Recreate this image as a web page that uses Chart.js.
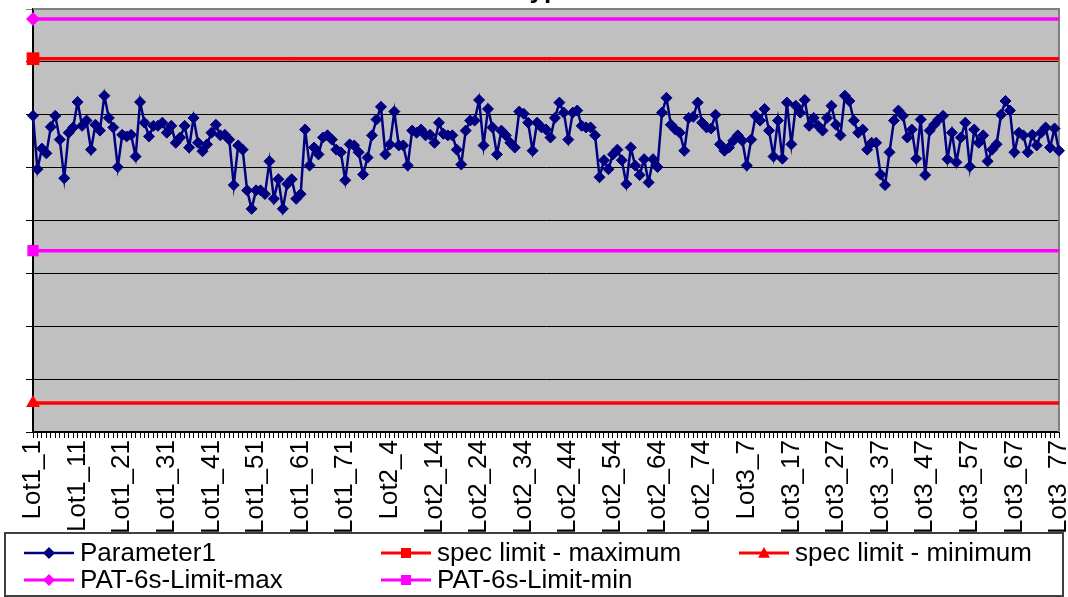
<!DOCTYPE html>
<html>
<head>
<meta charset="utf-8">
<script src="https://cdn.jsdelivr.net/npm/chart.js@4/dist/chart.umd.min.js"></script>
<style>
  html, body { margin: 0; padding: 0; background: #fff; }
  #chart { display: block; }
</style>
</head>
<body>
<canvas id="chart" width="1068" height="597"></canvas>
<script>
// ---- data ----
const lotNames = ["Lot1", "Lot2", "Lot3"];

const lot1Values = [
  5.98, 4.97, 5.36, 5.27, 5.77, 5.98, 5.53, 4.80, 5.66, 5.76,
  6.24, 5.79, 5.89, 5.34, 5.81, 5.70, 6.36, 5.94, 5.76, 5.01,
  5.62, 5.59, 5.62, 5.21, 6.24, 5.85, 5.59, 5.79, 5.79, 5.85,
  5.66, 5.79, 5.47, 5.57, 5.79, 5.38, 5.94, 5.47, 5.31, 5.44,
  5.66, 5.81, 5.61, 5.62, 5.53, 4.67, 5.42, 5.34, 4.57, 4.22,
  4.57, 4.57, 4.50, 5.12, 4.41, 4.78, 4.22, 4.69, 4.78, 4.41,
  4.50, 5.72, 5.04, 5.38, 5.25, 5.57, 5.61, 5.53, 5.34, 5.29,
  4.76, 5.44, 5.42, 5.29, 4.87, 5.19, 5.61
];
const lot2Values = [
  5.91, 6.15, 5.25, 5.44, 6.06, 5.42, 5.42, 5.04, 5.70, 5.66,
  5.72, 5.61, 5.62, 5.47, 5.85, 5.64, 5.61, 5.61, 5.34, 5.06,
  5.70, 5.89, 5.89, 6.28, 5.42, 6.11, 5.76, 5.25, 5.70, 5.61,
  5.47, 5.38, 6.06, 6.02, 5.85, 5.32, 5.85, 5.76, 5.72, 5.57,
  5.94, 6.23, 6.04, 5.53, 6.04, 6.08, 5.79, 5.76, 5.76, 5.61,
  4.82, 5.14, 4.97, 5.25, 5.34, 5.14, 4.69, 5.38, 5.04, 4.86,
  5.16, 4.72, 5.16, 5.01, 6.04, 6.32, 5.81, 5.72, 5.66, 5.32,
  5.94, 5.96, 6.23, 5.85, 5.76, 5.74, 6.00
];
const lot3Values = [
  5.44, 5.32, 5.38, 5.51, 5.61, 5.51, 5.04, 5.53, 5.98, 5.89,
  6.11, 5.70, 5.21, 5.89, 5.17, 6.23, 5.44, 6.17, 6.04, 6.28,
  5.79, 5.94, 5.79, 5.70, 5.94, 6.17, 5.81, 5.61, 6.36, 6.26,
  5.89, 5.66, 5.72, 5.34, 5.47, 5.47, 4.87, 4.67, 5.29, 5.89,
  6.08, 5.98, 5.57, 5.72, 5.17, 5.91, 4.86, 5.70, 5.81, 5.91,
  5.98, 5.16, 5.66, 5.10, 5.57, 5.85, 5.02, 5.72, 5.47, 5.61,
  5.12, 5.34, 5.44, 6.00, 6.26, 6.08, 5.29, 5.66, 5.61, 5.29,
  5.62, 5.42, 5.66, 5.76, 5.38, 5.74, 5.32
];

// limit levels (constant over all parts)
const specLimitMax = 7.06;
const specLimitMin = 0.55;
const patLimitMax = 7.81;
const patLimitMin = 3.43;

// y axis has no visible labels, 8 grid bands
const yMin = 0;
const yMax = 8;

const chartTitle = "Type";

// ---- build categories ----
const lotValues = [lot1Values, lot2Values, lot3Values];
const labels = [];
lotNames.forEach((name, k) => {
  lotValues[k].forEach((v, i) => labels.push(name + "_" + (i + 1)));
});
const parameter1 = [].concat(lot1Values, lot2Values, lot3Values);
const flat = (level) => labels.map(() => level);

const FONT = "'Liberation Sans', Arial, sans-serif";
const NAVY = "#000080";
const RED = "#FF0000";
const MAGENTA = "#FF00FF";

// marker only on the first point of a limit line
const firstOnly = (r) => (c) => (c.dataIndex === 0 ? r : 0);

// ---- small helper for Excel-like legend markers ----
function drawMarker(ctx, style, x, y, r, color) {
  ctx.save();
  ctx.fillStyle = color;
  ctx.beginPath();
  if (style === "diamond") {
    ctx.moveTo(x, y - r); ctx.lineTo(x + r, y); ctx.lineTo(x, y + r); ctx.lineTo(x - r, y);
  } else if (style === "square") {
    ctx.rect(x - r, y - r, 2 * r, 2 * r);
  } else if (style === "triangle") {
    ctx.moveTo(x, y - r); ctx.lineTo(x + r, y + r * 0.8); ctx.lineTo(x - r, y + r * 0.8);
  }
  ctx.closePath();
  ctx.fill();
  ctx.restore();
}

const legendItems = [
  { text: "Parameter1", color: NAVY, marker: "diamond", r: 6, lw: 2.5, col: 0, row: 0 },
  { text: "spec limit - maximum", color: RED, marker: "square", r: 5, lw: 3, col: 1, row: 0 },
  { text: "spec limit - minimum", color: RED, marker: "triangle", r: 6, lw: 3, col: 2, row: 0 },
  { text: "PAT-6s-Limit-max", color: MAGENTA, marker: "diamond", r: 6, lw: 3, col: 0, row: 1 },
  { text: "PAT-6s-Limit-min", color: MAGENTA, marker: "square", r: 5, lw: 3, col: 1, row: 1 }
];

// plot background, borders, title and boxed legend
const excelLook = {
  id: "excelLook",
  beforeDraw(chart) {
    const { ctx, chartArea: a } = chart;
    ctx.save();
    ctx.fillStyle = "#C0C0C0";
    ctx.fillRect(a.left, a.top, a.right - a.left, a.bottom - a.top);
    ctx.restore();
  },
  beforeDatasetsDraw(chart) {
    const { ctx, chartArea: a } = chart;
    ctx.save();
    ctx.strokeStyle = "#808080";
    ctx.lineWidth = 2;
    ctx.beginPath();
    ctx.moveTo(a.left, a.top);
    ctx.lineTo(a.right, a.top);
    ctx.lineTo(a.right, a.bottom);
    ctx.stroke();
    ctx.restore();
  },
  afterDraw(chart) {
    const ctx = chart.ctx;
    ctx.save();
    // title, mostly above the picture edge
    ctx.fillStyle = "#000";
    ctx.font = "bold 26px " + FONT;
    ctx.textAlign = "center";
    ctx.textBaseline = "alphabetic";
    ctx.fillText(chartTitle, 545, -2);

    // legend box
    ctx.fillStyle = "#fff";
    ctx.fillRect(5, 533, 1058, 63);
    ctx.strokeStyle = "#404040";
    ctx.lineWidth = 2;
    ctx.strokeRect(5, 533, 1058, 63);

    const colX = [24, 381, 739];
    const rowY = [553, 580];
    ctx.font = "26px " + FONT;
    ctx.textAlign = "left";
    ctx.textBaseline = "middle";
    legendItems.forEach((it) => {
      const x = colX[it.col];
      const y = rowY[it.row];
      ctx.strokeStyle = it.color;
      ctx.lineWidth = it.lw;
      ctx.beginPath();
      ctx.moveTo(x, y);
      ctx.lineTo(x + 50, y);
      ctx.stroke();
      drawMarker(ctx, it.marker, x + 25, y, it.r, it.color);
      ctx.fillStyle = "#000";
      ctx.fillText(it.text, x + 56, y + 1);
    });
    ctx.restore();
  }
};

new Chart(document.getElementById("chart"), {
  type: "line",
  data: {
    labels: labels,
    datasets: [
      {
        label: "Parameter1",
        data: parameter1,
        borderColor: NAVY,
        backgroundColor: NAVY,
        borderWidth: 2.5,
        pointStyle: "rectRot",
        pointRadius: 5.5,
        pointBorderWidth: 1,
        pointBackgroundColor: NAVY,
        pointBorderColor: NAVY,
        tension: 0,
        clip: false
      },
      {
        label: "spec limit - maximum",
        data: flat(specLimitMax),
        borderColor: RED,
        backgroundColor: RED,
        borderWidth: 3.5,
        pointStyle: "rect",
        pointRadius: firstOnly(9),
        pointBorderWidth: 0,
        clip: false
      },
      {
        label: "spec limit - minimum",
        data: flat(specLimitMin),
        borderColor: RED,
        backgroundColor: RED,
        borderWidth: 3.5,
        pointStyle: "triangle",
        pointRadius: firstOnly(8),
        pointBorderWidth: 0,
        clip: false
      },
      {
        label: "PAT-6s-Limit-max",
        data: flat(patLimitMax),
        borderColor: MAGENTA,
        backgroundColor: MAGENTA,
        borderWidth: 3.5,
        pointStyle: "rectRot",
        pointRadius: firstOnly(7),
        pointBorderWidth: 0,
        clip: false
      },
      {
        label: "PAT-6s-Limit-min",
        data: flat(patLimitMin),
        borderColor: MAGENTA,
        backgroundColor: MAGENTA,
        borderWidth: 3.5,
        pointStyle: "rect",
        pointRadius: firstOnly(8),
        pointBorderWidth: 0,
        clip: false
      }
    ]
  },
  options: {
    responsive: false,
    animation: false,
    devicePixelRatio: 1,
    layout: { padding: { left: 0, right: 6, top: 5, bottom: 62 } },
    plugins: {
      legend: { display: false },
      title: { display: false },
      tooltip: { enabled: false }
    },
    scales: {
      x: {
        offset: false,
        border: { color: "#000", width: 2 },
        grid: {
          drawOnChartArea: false,
          drawTicks: true,
          tickLength: 6,
          color: "#000"
        },
        ticks: {
          autoSkip: false,
          maxRotation: 90,
          minRotation: 90,
          padding: 2,
          color: "#000",
          font: { family: FONT, size: 26 },
          callback: function (value, index) {
            return index % 10 === 0 ? labels[index] : "";
          }
        },
        afterFit(scale) {
          scale.height = 103;
          scale.paddingLeft = 0;
          scale.paddingRight = 0;
        }
      },
      y: {
        min: yMin,
        max: yMax,
        border: { color: "#000", width: 2 },
        grid: {
          color: (c) => (c.tick && c.tick.value === yMax ? "#808080" : "#000"),
          lineWidth: 1,
          drawTicks: true,
          tickLength: 7
        },
        ticks: { display: false, stepSize: 1 },
        afterFit(scale) {
          scale.width = 33;
        }
      }
    }
  },
  plugins: [excelLook]
});
</script>
</body>
</html>
